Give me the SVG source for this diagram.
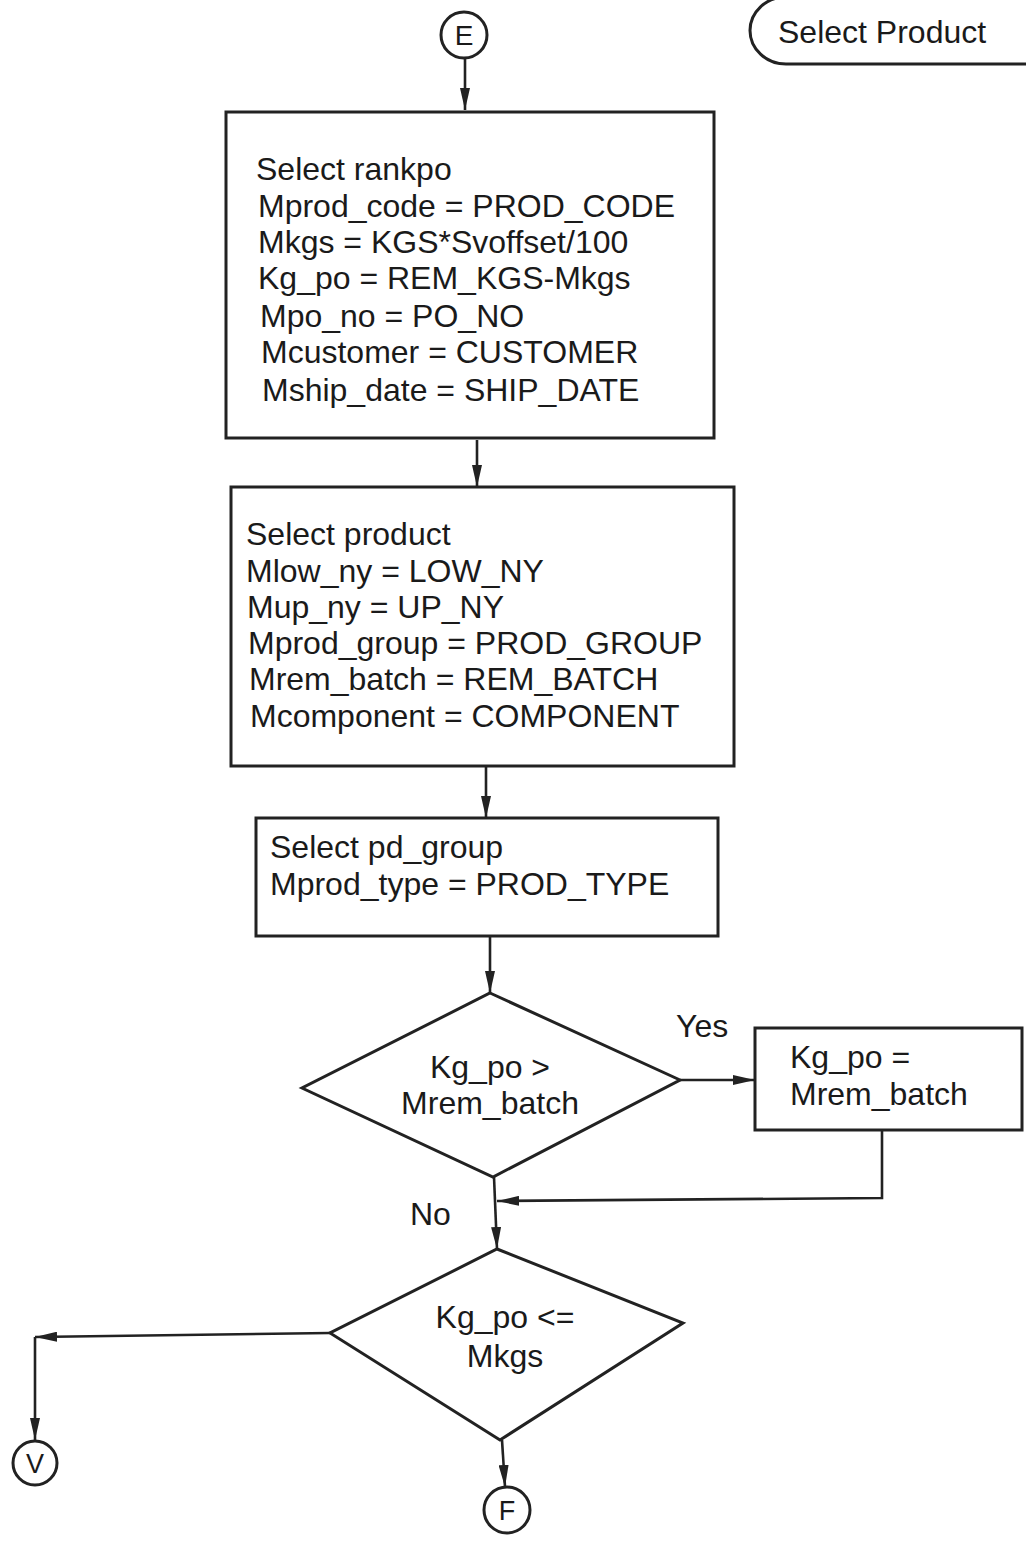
<svg xmlns="http://www.w3.org/2000/svg" width="1026" height="1542" viewBox="0 0 1026 1542">
<style>
.shape{fill:none;stroke:#222;stroke-width:3}
.line{fill:none;stroke:#222;stroke-width:2.6}
text{font-family:"Liberation Sans",Arial,sans-serif;fill:#1a1a1a}
.t{font-size:32px}
.c{text-anchor:middle}
</style>
<defs>
<marker id="arr" viewBox="0 0 22 10" refX="22" refY="5" markerWidth="22" markerHeight="10" markerUnits="userSpaceOnUse" orient="auto">
<path d="M0,0 L22,5 L0,10 Z" fill="#222"/>
</marker>
</defs>
<rect width="1026" height="1542" fill="#ffffff"/>
<g id="connectors">
<line class="line" x1="465" y1="58" x2="465" y2="110" marker-end="url(#arr)"/>
<line class="line" x1="477" y1="440" x2="477" y2="487" marker-end="url(#arr)"/>
<line class="line" x1="486" y1="766" x2="486" y2="818" marker-end="url(#arr)"/>
<line class="line" x1="490" y1="936" x2="490" y2="993" marker-end="url(#arr)"/>
<line class="line" x1="680" y1="1080" x2="755" y2="1080" marker-end="url(#arr)"/>
<polyline class="line" points="882,1130 882,1198 497,1201" marker-end="url(#arr)"/>
<line class="line" x1="494" y1="1177" x2="497" y2="1249" marker-end="url(#arr)"/>
<polyline class="line" points="330,1333 35,1337" marker-end="url(#arr)"/>
<line class="line" x1="35" y1="1337" x2="35" y2="1440" marker-end="url(#arr)"/>
<line class="line" x1="502" y1="1440" x2="505" y2="1487" marker-end="url(#arr)"/>
<text class="t" x="676" y="1037">Yes</text>
<text class="t" x="410" y="1225">No</text>
</g>
<g id="node-e">
<circle class="shape" cx="464" cy="35" r="23"/>
<text class="c" x="464" y="45" font-size="28">E</text>
</g>
<g id="node-title">
<rect class="shape" x="750" y="-3" width="320" height="67" rx="36"/>
<text x="778" y="43" font-size="32">Select Product</text>
</g>
<g id="node-rankpo">
<rect class="shape" x="226" y="112" width="488" height="326"/>
<text class="t" x="256" y="180">Select rankpo</text>
<text class="t" x="258" y="217">Mprod_code = PROD_CODE</text>
<text class="t" x="258" y="253">Mkgs = KGS*Svoffset/100</text>
<text class="t" x="258" y="289">Kg_po = REM_KGS-Mkgs</text>
<text class="t" x="260" y="327">Mpo_no = PO_NO</text>
<text class="t" x="261" y="363">Mcustomer = CUSTOMER</text>
<text class="t" x="262" y="401">Mship_date = SHIP_DATE</text>
</g>
<g id="node-product">
<rect class="shape" x="231" y="487" width="503" height="279"/>
<text class="t" x="246" y="545">Select product</text>
<text class="t" x="246" y="582">Mlow_ny = LOW_NY</text>
<text class="t" x="247" y="618">Mup_ny = UP_NY</text>
<text class="t" x="248" y="654">Mprod_group = PROD_GROUP</text>
<text class="t" x="249" y="690">Mrem_batch = REM_BATCH</text>
<text class="t" x="250" y="727">Mcomponent = COMPONENT</text>
</g>
<g id="node-pdgroup">
<rect class="shape" x="256" y="818" width="462" height="118"/>
<text class="t" x="270" y="858">Select pd_group</text>
<text class="t" x="270" y="895">Mprod_type = PROD_TYPE</text>
</g>
<g id="node-dec1">
<polygon class="shape" points="490,993 680,1080 493,1177 302,1088"/>
<text class="t c" x="490" y="1078">Kg_po &gt;</text>
<text class="t c" x="490" y="1114">Mrem_batch</text>
</g>
<g id="node-set">
<rect class="shape" x="755" y="1028" width="267" height="102"/>
<text class="t" x="790" y="1068">Kg_po =</text>
<text class="t" x="790" y="1105">Mrem_batch</text>
</g>
<g id="node-dec2">
<polygon class="shape" points="497,1249 683,1323 500,1440 330,1333"/>
<text class="t c" x="505" y="1328">Kg_po &lt;=</text>
<text class="t c" x="505" y="1367">Mkgs</text>
</g>
<g id="node-v">
<circle class="shape" cx="35" cy="1463" r="22"/>
<text class="c" x="35" y="1473" font-size="27">V</text>
</g>
<g id="node-f">
<circle class="shape" cx="507" cy="1510" r="23"/>
<text class="c" x="507" y="1520" font-size="27">F</text>
</g>
</svg>
